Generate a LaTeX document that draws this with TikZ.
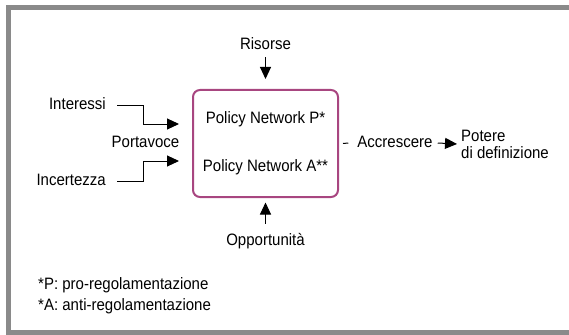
\documentclass[tikz,border=0pt]{standalone}
\usepackage{fontspec}
\setmainfont{Liberation Sans}[FakeStretch=0.91]
\usetikzlibrary{arrows.meta}
\definecolor{framegray}{RGB}{138,138,138}
\definecolor{netplum}{RGB}{168,70,128}
\begin{document}
\begin{tikzpicture}[x=1pt,y=-1pt,
  lbl/.style={inner sep=0pt, font=\fontsize{16.5}{17}\selectfont, text height=12pt, text depth=3pt},
  arr/.style={line width=1pt, -{Triangle[length=12pt,width=11pt]}},
  conn/.style={line width=1pt},
  netbox/.style={draw=netplum, line width=2pt, rounded corners=7pt,
    minimum width=145pt, minimum height=107pt, inner sep=0pt}]
\useasboundingbox (0,0) rectangle (569,334);
% outer frame (runs past the right edge)
\begin{scope}
  \clip (0,0) rectangle (569,334);
  \draw[framegray, line width=5pt] (8,7.5) rectangle (600,332);
\end{scope}

% central box with the two networks
\node[netbox] (net) at (265.5,143.5) {};
\node[lbl] (netP) at (265.5,119) {Policy Network P*};
\node[lbl] (netA) at (265.5,167) {Policy Network A**};

% inputs from above and below
\node[lbl] (ris) at (265.5,45) {Risorse};
\node[lbl] (opp) at (265.5,241) {Opportunità};
\draw[arr] ([yshift=-4.5pt]ris.south) -- ([yshift=10pt]net.north);
\draw[arr] ([yshift=9.5pt]opp.north) -- ([yshift=-4.5pt]net.south);

% inputs from the left
\node[lbl, anchor=east] (int) at (106,105) {Interessi};
\node[lbl, anchor=east] (inc) at (106,181) {Incertezza};
\node[lbl] (port) at (145.5,143) {Portavoce};
\coordinate (inA) at (179,124);
\coordinate (inB) at (179,161);
\draw[arr] ([xshift=11pt]int.east) -- ++(26,0) |- (inA);
\draw[arr] ([xshift=11pt]inc.east) -- ++(26,0) |- (inB);

% output
\node[lbl] (acc) at (395,143) {Accrescere};
\node[inner sep=0pt, anchor=west, align=left, font=\fontsize{16.5}{17}\selectfont]
  (pot) at (461,144) {Potere\\di definizione};
\draw[conn] ([xshift=4pt]net.east) -- ([xshift=-9pt]acc.west);
\draw[arr] ([xshift=5pt]acc.east) -- ([xshift=-4pt]pot.west);

% footnotes
\node[lbl, anchor=west] (fnP) at (38,285) {*P: pro-regolamentazione};
\node[lbl, anchor=west] (fnA) at (38,306) {*A: anti-regolamentazione};
\end{tikzpicture}
\end{document}
